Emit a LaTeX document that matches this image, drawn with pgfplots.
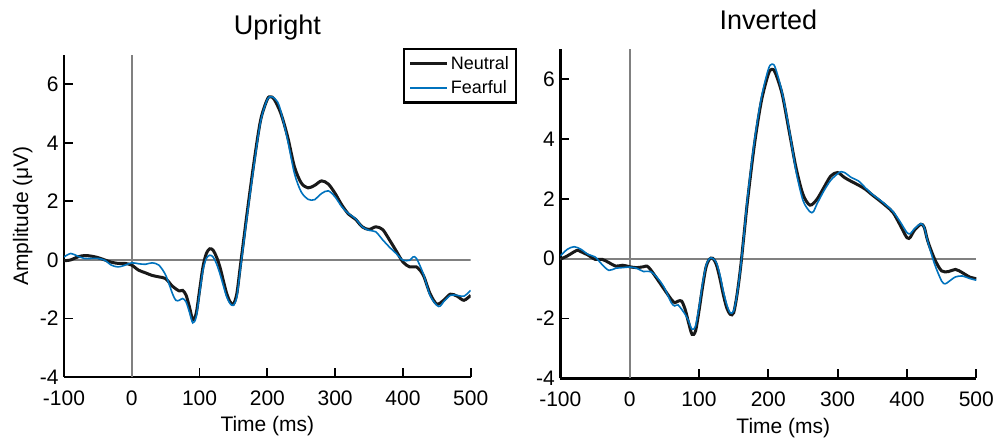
\documentclass[border=0pt]{standalone}
\usepackage{fontspec}
\setmainfont{Liberation Sans}
\usepackage{pgfplots}
\pgfplotsset{compat=1.18}
\definecolor{fblue}{RGB}{0,114,189}
\definecolor{nblack}{RGB}{25,25,25}
\definecolor{zgray}{RGB}{128,128,128}
\pgfplotsset{
  neutral/.style={nblack, line width=3pt, smooth, tension=0.5},
  fearful/.style={fblue, line width=1.6pt, smooth, tension=0.5},
  zero/.style={zgray, line width=2.2pt, forget plot},
}
\begin{document}
\begin{tikzpicture}
\begin{axis}[scale only axis, at={(64pt,64pt)}, anchor=south west, width=406.7pt, height=322pt,
  xmin=-100, xmax=500, ymin=-4, ymax=7,
  axis lines*=left,
  axis line style={line width=2.6pt, black},
  xtick={-100,0,...,500}, ytick={-4,-2,...,6},
  xtick align=inside, ytick align=inside,
  major tick length=9pt,
  every tick/.append style={black, line width=1.8pt},
  ticklabel style={font=\fontsize{21}{21}\selectfont},
  xticklabel style={yshift=-10pt},
  yticklabel style={xshift=-2pt},
  /pgf/number format/assume math mode=true,
  title={Upright},
  title style={font=\fontsize{27}{27}\selectfont, at={(0.5,1)}, anchor=base, yshift=14pt, xshift=10pt},
  xlabel={Time (ms)}, ylabel={Amplitude (μV)},
  xlabel style={at={(axis description cs:0.5,0)}, anchor=base, yshift=-55pt, font=\fontsize{21}{21}\selectfont},
  ylabel style={at={(axis description cs:-0.1016,0.5)}, anchor=center, font=\fontsize{21}{21}\selectfont},
  legend image code/.code={\draw[#1] (0pt,0pt) -- (37pt,0pt);},
  legend style={at={(0.833,1.021)}, anchor=north west, draw=black, line width=2.2pt,
    font=\fontsize{18}{18}\selectfont, inner xsep=5pt, inner ysep=5pt, row sep=6pt},
  legend cell align=left]
\addplot[zero] coordinates {(-100,0) (500,0)};
\addplot[zero] coordinates {(0,-4) (0,7)};
\addplot[neutral] coordinates {
(-100,-0.03) (-90,0.0) (-80,0.1) (-70,0.15) (-60,0.13) (-50,0.08) (-40,0) (-30,-0.08) (-20,-0.12) (-10,-0.12)
(0,-0.18) (10,-0.35) (20,-0.44) (30,-0.53) (40,-0.58) (50,-0.64) (60,-0.9) (70,-1.06) (75,-1.04) (80,-1.2)
(85,-1.6) (90,-2.04) (95,-1.83) (100,-1.04) (105,-0.24) (110,0.22) (115,0.38) (120,0.33) (125,0.1) (130,-0.24)
(135,-0.7) (140,-1.15) (145,-1.43) (150,-1.51) (155,-1.15) (160,-0.24) (165,0.67) (170,1.58) (180,3.29) (190,4.77)
(200,5.49) (205,5.57) (210,5.49) (220,5.0) (230,4.2) (240,3.18) (250,2.63) (260,2.46) (270,2.55) (280,2.7)
(290,2.59) (300,2.27) (310,1.87) (320,1.56) (330,1.39) (340,1.13) (350,1.04) (360,1.13) (370,1.04) (380,0.69)
(390,0.31) (400,-0.07) (410,-0.24) (420,-0.24) (430,-0.52) (440,-1.15) (450,-1.51) (460,-1.38) (470,-1.17) (480,-1.24)
(490,-1.38) (500,-1.21)};
\addlegendentry{Neutral}
\addplot[fearful] coordinates {
(-100,0.1) (-90,0.22) (-80,0.13) (-70,0.05) (-60,0.05) (-50,0.05) (-40,-0.01) (-30,-0.18) (-20,-0.24) (-10,-0.18)
(0,-0.1) (10,-0.13) (20,-0.15) (30,-0.1) (40,-0.18) (50,-0.52) (60,-1.15) (65,-1.38) (70,-1.38) (75,-1.32)
(80,-1.43) (85,-1.78) (90,-2.15) (95,-1.95) (100,-1.15) (105,-0.35) (110,0.05) (115,0.16) (120,0.1) (125,-0.13)
(130,-0.47) (135,-0.87) (140,-1.26) (145,-1.49) (150,-1.55) (155,-1.26) (160,-0.35) (165,0.56) (170,1.47) (180,3.18)
(190,4.72) (200,5.48) (207,5.57) (215,5.4) (220,5.06) (230,4.09) (240,2.95) (250,2.32) (260,2.07) (265,2.04)
(270,2.06) (280,2.27) (290,2.36) (300,2.15) (310,1.81) (320,1.58) (330,1.41) (340,1.13) (350,1.01) (360,0.96)
(370,0.69) (380,0.44) (390,0.22) (400,-0.01) (410,-0.01) (415,0.1) (420,0.05) (430,-0.47) (440,-1.21) (450,-1.55)
(455,-1.58) (460,-1.43) (470,-1.21) (480,-1.21) (490,-1.24) (500,-1.04)};
\addlegendentry{Fearful}
\end{axis}
\begin{axis}[scale only axis, at={(560.3pt,62.7pt)}, anchor=south west, width=416pt, height=329pt,
  xmin=-100, xmax=500, ymin=-4, ymax=7,
  axis lines*=left,
  axis line style={line width=2.6pt, black},
  xtick={-100,0,...,500}, ytick={-4,-2,...,6},
  xtick align=inside, ytick align=inside,
  major tick length=9pt,
  every tick/.append style={black, line width=1.8pt},
  ticklabel style={font=\fontsize{21}{21}\selectfont},
  xticklabel style={yshift=-10pt},
  yticklabel style={xshift=-2pt},
  /pgf/number format/assume math mode=true,
  title={Inverted},
  title style={font=\fontsize{27}{27}\selectfont, at={(0.5,1)}, anchor=base, yshift=14pt},
  xlabel={Time (ms)},
  xlabel style={at={(axis description cs:0.5,0)}, anchor=base, yshift=-55pt, xshift=15pt, font=\fontsize{21}{21}\selectfont}]
\addplot[zero] coordinates {(-100,0) (500,0)};
\addplot[zero] coordinates {(0,-4) (0,7)};
\addplot[neutral] coordinates {
(-100,-0.02) (-90,0.09) (-80,0.23) (-75,0.28) (-70,0.23) (-60,0.12) (-50,-0.02) (-40,-0.02) (-30,-0.13) (-20,-0.25)
(-10,-0.22) (0,-0.27) (10,-0.3) (20,-0.27) (25,-0.25) (30,-0.36) (40,-0.69) (50,-1.03) (60,-1.36) (65,-1.47)
(70,-1.42) (75,-1.42) (80,-1.69) (85,-2.14) (90,-2.53) (95,-2.42) (100,-1.75) (105,-0.97) (110,-0.3) (115,-0.02)
(120,0.01) (125,-0.19) (130,-0.64) (135,-1.19) (140,-1.64) (145,-1.86) (150,-1.81) (155,-1.19) (160,-0.3) (165,0.81)
(170,1.93) (180,3.82) (190,5.27) (200,6.17) (205,6.33) (210,6.22) (220,5.5) (230,4.27) (240,3.04) (250,2.15)
(260,1.79) (270,1.98) (280,2.37) (290,2.76) (300,2.88) (310,2.71) (320,2.58) (330,2.46) (340,2.32) (350,2.13)
(360,1.95) (370,1.76) (380,1.54) (390,1.13) (400,0.7) (405,0.72) (410,0.93) (420,1.15) (425,1.04) (430,0.59)
(440,-0.02) (450,-0.41) (460,-0.43) (470,-0.36) (480,-0.47) (490,-0.61) (500,-0.67)};
\addplot[fearful] coordinates {
(-100,0.09) (-90,0.31) (-80,0.4) (-70,0.31) (-60,0.14) (-50,0.06) (-40,-0.19) (-30,-0.39) (-20,-0.32) (-10,-0.3)
(0,-0.28) (10,-0.32) (20,-0.43) (30,-0.43) (40,-0.64) (50,-0.97) (60,-1.47) (65,-1.58) (70,-1.55) (80,-1.86)
(85,-2.08) (90,-2.36) (95,-2.25) (100,-1.64) (105,-0.86) (110,-0.25) (115,0) (120,0.01) (125,-0.13) (130,-0.52)
(135,-1.08) (140,-1.53) (145,-1.81) (150,-1.75) (155,-1.19) (160,-0.3) (165,0.81) (170,2.04) (180,3.94) (190,5.38)
(200,6.33) (205,6.5) (210,6.39) (220,5.55) (230,4.33) (240,2.93) (250,1.95) (260,1.57) (265,1.57) (270,1.82)
(280,2.26) (290,2.62) (300,2.84) (305,2.91) (310,2.88) (320,2.71) (330,2.6) (340,2.37) (350,2.15) (360,1.98)
(370,1.79) (380,1.57) (390,1.24) (400,0.87) (405,0.84) (410,0.98) (420,1.17) (425,1.04) (430,0.57) (440,-0.19)
(450,-0.75) (455,-0.84) (460,-0.77) (470,-0.61) (480,-0.58) (490,-0.66) (500,-0.72)};
\end{axis}
\pgfresetboundingbox
\useasboundingbox (0,0) rectangle (998pt,441pt);
\end{tikzpicture}
\end{document}
